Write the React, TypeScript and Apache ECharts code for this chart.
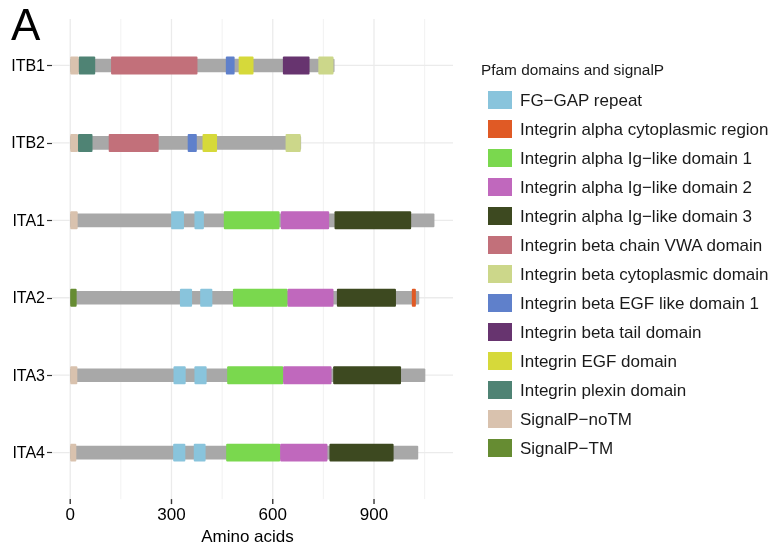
import React, { useEffect, useRef } from "react";
import * as echarts from "echarts";

// ---- Data ----
const proteins = ["ITB1", "ITB2", "ITA1", "ITA2", "ITA3", "ITA4"];
const proteinLengths = [783, 684, 1079, 1034, 1052, 1031];

const xTickValues = [0, 300, 600, 900];
const xGridMajor = [0, 300, 600, 900];
const xGridMinor = [150, 450, 750, 1050];

const fgGap = [["ITA1", 299, 337], ["ITA1", 368, 396], ["ITA2", 325, 361], ["ITA2", 385, 421], ["ITA3", 306, 342], ["ITA3", 368, 404], ["ITA4", 305, 341], ["ITA4", 366, 401]];
const alphaCyto = [["ITA2", 1012, 1024]];
const alphaIg1 = [["ITA1", 455, 620], ["ITA2", 482, 644], ["ITA3", 465, 631], ["ITA4", 462, 622]];
const alphaIg2 = [["ITA1", 624, 767], ["ITA2", 644, 780], ["ITA3", 631, 774], ["ITA4", 622, 762]];
const alphaIg3 = [["ITA1", 783, 1010], ["ITA2", 790, 965], ["ITA3", 779, 980], ["ITA4", 768, 958]];
const betaVWA = [["ITB1", 121, 377], ["ITB2", 114, 262]];
const betaCyto = [["ITB1", 735, 780], ["ITB2", 638, 683]];
const betaEGF1 = [["ITB1", 461, 487], ["ITB2", 348, 375]];
const betaTail = [["ITB1", 630, 709]];
const integrinEGF = [["ITB1", 499, 543], ["ITB2", 392, 435]];
const plexin = [["ITB1", 25, 74], ["ITB2", 23, 66]];
const signalNoTM = [["ITB1", 0, 25], ["ITB2", 0, 23], ["ITA1", 0, 22], ["ITA3", 0, 21], ["ITA4", 0, 18]];
const signalTM = [["ITA2", 0, 19]];

const domainTypes: { name: string; color: string; data: any[] }[] = [
  { name: "FG\u2212GAP repeat", color: "#89c4dc", data: fgGap },
  { name: "Integrin alpha cytoplasmic region", color: "#e05a25", data: alphaCyto },
  { name: "Integrin alpha Ig\u2212like domain 1", color: "#7ad84e", data: alphaIg1 },
  { name: "Integrin alpha Ig\u2212like domain 2", color: "#c068bd", data: alphaIg2 },
  { name: "Integrin alpha Ig\u2212like domain 3", color: "#3d4920", data: alphaIg3 },
  { name: "Integrin beta chain VWA domain", color: "#c2707a", data: betaVWA },
  { name: "Integrin beta cytoplasmic domain", color: "#ccd78a", data: betaCyto },
  { name: "Integrin beta EGF like domain 1", color: "#5f80cb", data: betaEGF1 },
  { name: "Integrin beta tail domain", color: "#67346f", data: betaTail },
  { name: "Integrin EGF domain", color: "#d6d93a", data: integrinEGF },
  { name: "Integrin plexin domain", color: "#4f8374", data: plexin },
  { name: "SignalP\u2212noTM", color: "#d9c2ae", data: signalNoTM },
  { name: "SignalP\u2212TM", color: "#668c32", data: signalTM },
];

const FONT = "'Liberation Sans', Arial, Helvetica, sans-serif";

function rectRender(halfH: number) {
  return (params: any, api: any) => {
    const row = api.value(0);
    const s = api.coord([api.value(1), row]);
    const e = api.coord([api.value(2), row]);
    const h = api.size([0, halfH * 2])[1];
    return {
      type: "rect",
      shape: { x: s[0], y: s[1] - h / 2, width: e[0] - s[0], height: h, r: 1 },
      style: { fill: api.visual("color") },
    };
  };
}

export default function App() {
  const ref = useRef<HTMLDivElement>(null);
  useEffect(() => {
    if (!ref.current) return;
    const chart = echarts.init(ref.current, undefined, { renderer: "svg" });

    const rowIdx = proteins.map((_, i) => i);

    const series: any[] = [
      {
        type: "custom",
        name: "vgrid",
        silent: true,
        z: 0,
        data: [...xGridMajor.map((v) => [v, 1]), ...xGridMinor.map((v) => [v, 0])],
        encode: { x: 0 },
        renderItem: (params: any, api: any) => {
          const cs = params.coordSys;
          const p = api.coord([api.value(0), 0]);
          const major = api.value(1) === 1;
          return {
            type: "line",
            shape: { x1: p[0], y1: cs.y, x2: p[0], y2: cs.y + cs.height },
            style: { stroke: "#ebebeb", lineWidth: major ? 1.3 : 0.7 },
          };
        },
      },
      {
        type: "custom",
        name: "hgrid",
        silent: true,
        z: 0,
        data: rowIdx.map((i) => [0, i]),
        encode: { x: 0, y: 1 },
        renderItem: (params: any, api: any) => {
          const cs = params.coordSys;
          const p = api.coord([0, api.value(1)]);
          return {
            type: "line",
            shape: { x1: cs.x, y1: p[1], x2: cs.x + cs.width, y2: p[1] },
            style: { stroke: "#ebebeb", lineWidth: 1.3 },
          };
        },
      },
      {
        type: "custom",
        name: "backbone",
        silent: true,
        z: 1,
        itemStyle: { color: "#a8a8a8" },
        data: proteinLengths.map((len, i) => [i, 0, len]),
        encode: { x: [1, 2], y: 0 },
        renderItem: rectRender(0.088),
      },
      ...domainTypes.map((d) => ({
        type: "custom",
        name: d.name,
        z: 2,
        itemStyle: { color: d.color },
        data: d.data.map((r: any) => [proteins.indexOf(r[0]), r[1], r[2]]),
        encode: { x: [1, 2], y: 0 },
        renderItem: rectRender(0.116),
      })),
    ];

    const baseGraphics: any[] = [
      { type: "text", left: 11, top: 2, style: { text: "A", fontSize: 44, fill: "#000", fontFamily: FONT } },
      { type: "text", left: 481, top: 62, style: { text: "Pfam domains and signalP", fontSize: 15.4, fill: "#1a1a1a", fontFamily: FONT } },
    ];

    chart.setOption({
      animation: false,
      textStyle: { fontFamily: FONT },
      grid: { left: 52, right: 321, top: 19, bottom: 47, containLabel: false },
      xAxis: {
        type: "value",
        min: -54,
        max: 1134,
        name: "Amino acids",
        nameLocation: "middle",
        nameGap: 24,
        nameTextStyle: { fontSize: 17, color: "#000", fontFamily: FONT, padding: [0, 10, 0, 0] },
        axisLine: { show: false, onZero: false },
        splitLine: { show: false },
        axisTick: { show: false },
        axisLabel: { customValues: xTickValues, fontSize: 17, color: "#000", margin: 7, fontFamily: FONT },
      },
      yAxis: {
        type: "value",
        min: -0.6,
        max: 5.6,
        inverse: true,
        axisLine: { show: false, onZero: false },
        splitLine: { show: false },
        axisTick: { show: true, customValues: rowIdx, length: 5, lineStyle: { color: "#333", width: 1.2 } },
        axisLabel: {
          customValues: rowIdx,
          formatter: (v: number) => proteins[Math.round(v)] ?? "",
          fontSize: 16,
          color: "#000",
          margin: 7,
          fontFamily: FONT,
        },
      },
      legend: {
        orient: "vertical",
        left: 483,
        top: 86,
        itemWidth: 24,
        itemHeight: 18,
        itemGap: 11,
        icon: "rect",
        selectedMode: false,
        data: domainTypes.map((d) => d.name),
        textStyle: { fontSize: 17, color: "#1a1a1a", fontFamily: FONT, padding: [0, 0, 0, 3] },
      },
      graphic: baseGraphics,
      series,
    });

    // x-axis tick marks, positioned through the axis scale
    const yBottom = chart.convertToPixel({ yAxisIndex: 0 }, 5.6) as number;
    const tickGraphics = xTickValues.map((v) => {
      const px = chart.convertToPixel({ xAxisIndex: 0 }, v) as number;
      return {
        type: "rect",
        silent: true,
        z: 100,
        shape: { x: px - 0.7, y: yBottom, width: 1.4, height: 5 },
        style: { fill: "#333" },
      };
    });
    chart.setOption({ graphic: [...baseGraphics, ...tickGraphics] });

    return () => chart.dispose();
  }, []);

  return <div ref={ref} style={{ position: "fixed", left: 0, top: 0, width: 774, height: 550 }} />;
}
